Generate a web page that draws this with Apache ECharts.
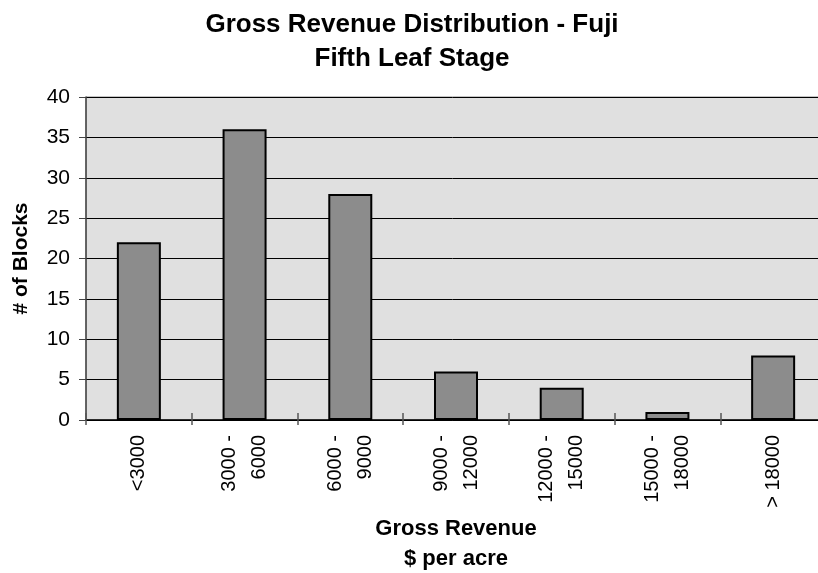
<!DOCTYPE html>
<html>
<head>
<meta charset="utf-8">
<script src="https://cdn.jsdelivr.net/npm/echarts@6/dist/echarts.min.js"></script>
<style>
html,body{margin:0;padding:0;background:#fff;}
#chart{width:818px;height:573px;}
</style>
</head>
<body>
<div id="chart"></div>
<script>
const titleLines = ['Gross Revenue Distribution - Fuji', 'Fifth Leaf Stage'];
const categories = ['<3000', '3000 -\n6000', '6000 -\n9000', '9000 -\n12000', '12000 -\n15000', '15000 -\n18000', '> 18000'];
const blocks = [22, 36, 28, 6, 4, 1, 8];
const yTicks = { min: 0, max: 40, interval: 5 };
const xAxisName = 'Gross Revenue\n$ per acre';
const yAxisName = '# of Blocks';

const font = 'Liberation Sans, Arial, sans-serif';
const chart = echarts.init(document.getElementById('chart'), null, { renderer: 'canvas' });
chart.setOption({
  animation: false,
  backgroundColor: '#ffffff',
  title: {
    text: titleLines.join('\n'),
    left: 407,
    top: 3,
    textAlign: 'center',
    textStyle: { fontFamily: font, fontSize: 26, fontWeight: 'bold', color: '#000', lineHeight: 34 }
  },
  grid: {
    left: 86, top: 97, width: 740, height: 323,
    containLabel: false,
    outerBoundsMode: 'none',
    show: true, backgroundColor: '#e0e0e0', borderColor: '#8a8a8a', borderWidth: 1
  },
  xAxis: [{
    type: 'category',
    data: categories,
    name: xAxisName,
    nameLocation: 'middle',
    nameGap: 94,
    nameMoveOverlap: false,
    nameTextStyle: { fontFamily: font, fontSize: 22, fontWeight: 'bold', color: '#000', lineHeight: 30 },
    axisLine: { show: true, lineStyle: { color: '#000', width: 1.5 } },
    axisTick: { show: true, length: 5, lineStyle: { color: '#555', width: 1.5 } },
    axisLabel: { rotate: 90, margin: 15, align: 'right', fontFamily: font, fontSize: 20, color: '#000', lineHeight: 30 },
    splitLine: { show: false }
  }, {
    type: 'category',
    data: categories,
    position: 'bottom',
    axisLine: { show: false },
    axisTick: { show: true, inside: true, length: 7, lineStyle: { color: '#555', width: 1.5 } },
    axisLabel: { show: false },
    splitLine: { show: false }
  }],
  yAxis: {
    type: 'value',
    min: yTicks.min, max: yTicks.max, interval: yTicks.interval,
    name: yAxisName,
    nameLocation: 'middle',
    nameGap: 54,
    nameMoveOverlap: false,
    nameTextStyle: { fontFamily: font, fontSize: 21, fontWeight: 'bold', color: '#000' },
    axisLine: { show: true, lineStyle: { color: '#444', width: 1.5 } },
    axisTick: { show: true, length: 7, lineStyle: { color: '#444', width: 1 } },
    axisLabel: { margin: 16, fontFamily: font, fontSize: 21, color: '#000' },
    splitLine: { show: true, lineStyle: { color: '#000', width: 1 } }
  },
  series: [{
    type: 'bar',
    data: blocks,
    barWidth: 44,
    itemStyle: { color: '#8c8c8c', borderColor: '#000', borderWidth: 2 }
  }]
});
</script>
</body>
</html>
